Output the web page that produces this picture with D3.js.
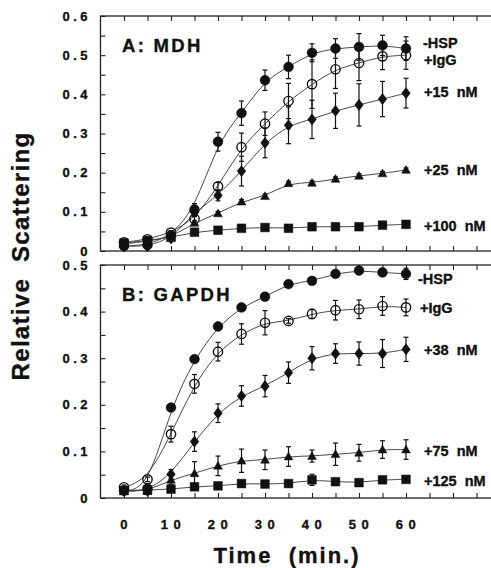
<!DOCTYPE html>
<html lang="en">
<head>
<meta charset="utf-8">
<title>Relative Scattering</title>
<script src="https://cdn.jsdelivr.net/npm/d3@7/dist/d3.min.js"></script>
<style>
  body { margin: 0; background: #fff; }
  text { font-family: "Liberation Sans", Arial, Helvetica, sans-serif; font-weight: bold; fill: #111; stroke: #111; stroke-width: 0.35px; white-space: pre; }
</style>
</head>
<body>
<script>
// time points (min.)
var times = [0, 5, 10, 15, 20, 25, 30, 35, 40, 45, 50, 55, 60];
var xTickLabels = [0, 10, 20, 30, 40, 50, 60];

// panel A: MDH
var mdhLabels = ["-HSP", "+IgG", "+15  nM", "+25  nM", "+100  nM"];
var mdhHsp  = [0.013, 0.015, 0.040, 0.106, 0.279, 0.352, 0.436, 0.470, 0.506, 0.517, 0.521, 0.525, 0.517];
var mdhIgg  = [0.022, 0.030, 0.047, 0.082, 0.165, 0.265, 0.325, 0.383, 0.426, 0.464, 0.480, 0.497, 0.500];
var mdh15   = [0.012, 0.012, 0.032, 0.098, 0.142, 0.204, 0.276, 0.321, 0.336, 0.358, 0.373, 0.388, 0.403];
var mdh25   = [0.018, 0.025, 0.035, 0.072, 0.096, 0.126, 0.140, 0.173, 0.174, 0.184, 0.192, 0.198, 0.207];
var mdh100  = [0.020, 0.027, 0.035, 0.048, 0.053, 0.058, 0.060, 0.058, 0.062, 0.062, 0.062, 0.066, 0.068];
var mdhHspErr = [0, 0, 0.005, 0.015, 0.024, 0.031, 0.026, 0.030, 0.023, 0.025, 0.034, 0.026, 0.030];
var mdhIggErr = [0, 0, 0.005, 0.010, 0.010, 0.036, 0.030, 0.045, 0.062, 0.049, 0.045, 0.034, 0.036];
var mdh15Err  = [0, 0, 0.005, 0.010, 0.014, 0.038, 0.038, 0.047, 0.049, 0.045, 0.054, 0.045, 0.038];
var mdh25Err  = [0, 0, 0, 0.005, 0.005, 0.005, 0.005, 0.005, 0.005, 0.005, 0.005, 0.005, 0.005];
var mdh100Err = [0, 0, 0, 0.005, 0.005, 0.005, 0.005, 0.008, 0.005, 0.005, 0.008, 0.005, 0.008];

// panel B: GAPDH
var gapdhLabels = ["-HSP", "+IgG", "+38  nM", "+75  nM", "+125  nM"];
var gapdhHsp = [0.016, 0.020, 0.194, 0.298, 0.368, 0.409, 0.432, 0.459, 0.466, 0.481, 0.488, 0.484, 0.481];
var gapdhIgg = [0.023, 0.040, 0.137, 0.245, 0.314, 0.352, 0.376, 0.380, 0.395, 0.403, 0.405, 0.412, 0.409];
var gapdh38  = [0.015, 0.015, 0.051, 0.121, 0.182, 0.219, 0.240, 0.269, 0.300, 0.310, 0.310, 0.310, 0.319];
var gapdh75  = [0.015, 0.015, 0.039, 0.053, 0.069, 0.080, 0.082, 0.089, 0.090, 0.094, 0.097, 0.104, 0.104];
var gapdh125 = [0.016, 0.017, 0.019, 0.024, 0.026, 0.031, 0.030, 0.031, 0.039, 0.035, 0.033, 0.039, 0.040];
var gapdhHspErr = [0, 0, 0.005, 0.005, 0.005, 0.005, 0.005, 0.005, 0.005, 0.005, 0.005, 0.005, 0.012];
var gapdhIggErr = [0.005, 0.005, 0.017, 0.020, 0.020, 0.022, 0.026, 0.005, 0.010, 0.021, 0.020, 0.020, 0.018];
var gapdh38Err  = [0, 0, 0.010, 0.021, 0.020, 0.022, 0.023, 0.023, 0.025, 0.021, 0.025, 0.030, 0.026];
var gapdh75Err  = [0, 0, 0.010, 0.025, 0.021, 0.025, 0.021, 0.021, 0.013, 0.024, 0.018, 0.019, 0.021];
var gapdh125Err = [0, 0, 0.005, 0.005, 0.005, 0.005, 0.005, 0.005, 0.012, 0.005, 0.005, 0.005, 0.005];

var markers = ["circle", "open", "diamond", "triangle", "square"];

var w = 491, h = 568;
var svg = d3.select("body").append("svg")
    .attr("width", w)
    .attr("height", h);

var x = d3.scaleLinear().domain([-5, 85]).range([100.5, 523.5]);

function markerPath(type) {
    if (type == "circle") return d3.symbol(d3.symbolCircle, 76)();
    if (type == "open") return d3.symbol(d3.symbolCircle, 68)();
    if (type == "square") return d3.symbol(d3.symbolSquare, 76)();
    if (type == "diamond") return "M0,-5.6L4.3,0L0,5.6L-4.3,0Z";
    return "M0,-4.4L4.4,3.4L-4.4,3.4Z"; // triangle
}

function drawPanel(cfg) {
    var y = d3.scaleLinear().domain([0, cfg.ymax]).range([cfg.bottom, cfg.top]);
    var g = svg.append("g");

    // frame (right side runs off the picture)
    g.append("rect")
        .attr("x", 100.5).attr("y", cfg.top)
        .attr("width", 440).attr("height", cfg.bottom - cfg.top)
        .attr("fill", "none").attr("stroke", "#222").attr("stroke-width", 1.3);

    // inward ticks
    var xt = d3.range(0, 86, 5);
    g.append("g").attr("transform", "translate(0," + cfg.bottom + ")")
        .call(d3.axisBottom(x).tickValues(xt).tickSize(-5).tickFormat(""))
        .call(function(s) { s.select(".domain").remove(); });
    g.append("g").attr("transform", "translate(0," + cfg.top + ")")
        .call(d3.axisTop(x).tickValues(xt).tickSize(-5).tickFormat(""))
        .call(function(s) { s.select(".domain").remove(); });
    g.append("g").attr("transform", "translate(100.5,0)")
        .call(d3.axisLeft(y).tickValues(d3.range(0, cfg.ymax + 0.001, 0.05)).tickSize(-5).tickFormat(""))
        .call(function(s) { s.select(".domain").remove(); });
    g.selectAll(".tick line").attr("stroke", "#222").attr("stroke-width", 1.1);

    // y tick labels
    g.selectAll("text.ylab")
        .data(d3.range(0, cfg.ymax + 0.001, 0.1))
        .enter().append("text")
        .attr("class", "ylab")
        .attr("x", 91)
        .attr("y", function(d) { return y(d) + 4.5; })
        .attr("text-anchor", "end")
        .attr("font-size", "13px")
        .attr("letter-spacing", "3.5px")
        .text(function(d) { return d == 0 ? "0" : d3.format(".1f")(d); });

    // panel title
    g.append("text")
        .attr("x", 122).attr("y", cfg.top + 36)
        .attr("font-size", "18.5px")
        .attr("letter-spacing", "2.3px")
        .text(cfg.title);

    var line = d3.line()
        .x(function(d, i) { return x(times[i]); })
        .y(function(d) { return y(d); })
        .curve(d3.curveBasis);

    cfg.series.forEach(function(vals, k) {
        var errs = cfg.errors[k];
        g.append("path")
            .datum(vals)
            .attr("d", line)
            .attr("fill", "none")
            .attr("stroke", "#333")
            .attr("stroke-width", 0.9);

        var eb = g.append("g");
        vals.forEach(function(v, i) {
            if (!errs[i]) return;
            var cx = x(times[i]);
            eb.append("line").attr("x1", cx).attr("x2", cx)
                .attr("y1", y(v - errs[i])).attr("y2", y(v + errs[i]));
            eb.append("line").attr("x1", cx - 2.5).attr("x2", cx + 2.5)
                .attr("y1", y(v - errs[i])).attr("y2", y(v - errs[i]));
            eb.append("line").attr("x1", cx - 2.5).attr("x2", cx + 2.5)
                .attr("y1", y(v + errs[i])).attr("y2", y(v + errs[i]));
        });
        eb.selectAll("line").attr("stroke", "#111").attr("stroke-width", 1.2);

        var type = markers[k];
        g.selectAll("path.m" + k)
            .data(vals)
            .enter().append("path")
            .attr("class", "m" + k)
            .attr("d", markerPath(type))
            .attr("transform", function(d, i) { return "translate(" + x(times[i]) + "," + y(d) + ")"; })
            .attr("fill", type == "open" ? "none" : "#111")
            .attr("stroke", "#111")
            .attr("stroke-width", type == "open" ? 1.4 : 0.5);
    });

    // series labels
    g.selectAll("text.slab")
        .data(cfg.labels)
        .enter().append("text")
        .attr("class", "slab")
        .attr("x", function(d, i) { return cfg.labelX[i]; })
        .attr("y", function(d, i) { return cfg.labelY[i]; })
        .attr("font-size", "14.5px")
        .text(function(d) { return d; });
}

drawPanel({
    title: "A: MDH", top: 16, bottom: 251, ymax: 0.6,
    series: [mdhHsp, mdhIgg, mdh15, mdh25, mdh100],
    errors: [mdhHspErr, mdhIggErr, mdh15Err, mdh25Err, mdh100Err],
    labels: mdhLabels,
    labelX: [423, 424, 424, 424, 424],
    labelY: [48, 65, 97, 175, 231]
});

drawPanel({
    title: "B: GAPDH", top: 265, bottom: 498, ymax: 0.5,
    series: [gapdhHsp, gapdhIgg, gapdh38, gapdh75, gapdh125],
    errors: [gapdhHspErr, gapdhIggErr, gapdh38Err, gapdh75Err, gapdh125Err],
    labels: gapdhLabels,
    labelX: [418, 420, 424, 424, 424],
    labelY: [284, 313, 355, 456, 486]
});

// x tick labels
svg.selectAll("text.xlab")
    .data(xTickLabels)
    .enter().append("text")
    .attr("class", "xlab")
    .attr("x", function(d) { return x(d) + 2.5; })
    .attr("y", 529)
    .attr("text-anchor", "middle")
    .attr("font-size", "13px")
    .attr("letter-spacing", "5.5px")
    .text(function(d) { return d; });

// axis titles
svg.append("text")
    .attr("x", 287).attr("y", 563)
    .attr("text-anchor", "middle")
    .attr("font-size", "22px")
    .attr("letter-spacing", "2px")
    .text("Time  (min.)");

svg.append("text")
    .attr("transform", "translate(29,256) rotate(-90)")
    .attr("text-anchor", "middle")
    .attr("font-size", "24px")
    .attr("letter-spacing", "1.3px")
    .text("Relative  Scattering");
</script>
</body>
</html>
